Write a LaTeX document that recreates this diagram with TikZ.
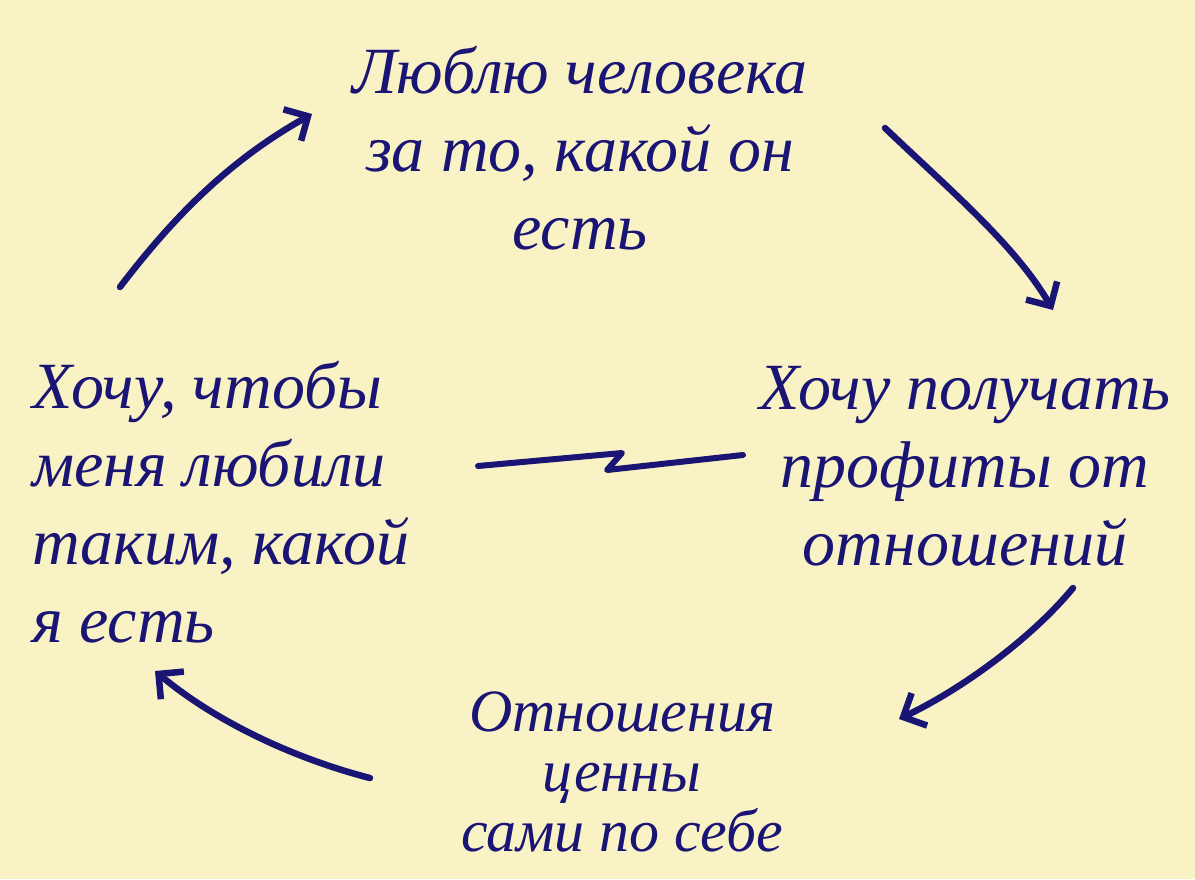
\documentclass[tikz,border=0pt]{standalone}
\usepackage{fontspec}
\setmainfont{Liberation Serif}
\usetikzlibrary{arrows.meta}
\definecolor{paper}{HTML}{F9F2C5}
\definecolor{ink}{HTML}{1A1474}
\begin{document}
\begin{tikzpicture}[x=1pt,y=-1pt,
  txt/.style={text=ink,font=\itshape\fontsize{66}{78}\selectfont,inner sep=0pt},
  pen/.style={draw=ink,line width=6.5pt,line cap=round,line join=round},
  arr/.style={pen,-{Straight Barb[length=18pt,width=36pt,line width=6.5pt]}}]
\fill[paper] (0,0) rectangle (1195,879);
\useasboundingbox (0,0) rectangle (1195,879);
\node[txt,align=center] (top) at (580,148) {Люблю человека\\за то, какой он\\есть};
\node[txt,align=center] (right) at (965,466) {Хочу получать\\профиты от\\отношений};
\node[txt,align=center,font=\itshape\fontsize{60}{60}\selectfont] (bottom) at (622,772) {Отношения\\ценны\\сами по себе};
\node[txt,align=left,anchor=west] (left) at (32,502) {Хочу, чтобы\\меня любили\\таким, какой\\я есть};
\coordinate (a1s) at (120,287);
\coordinate (a1e) at (312,114);
\coordinate (a2s) at (885,128);
\coordinate (a2e) at (1053,310);
\coordinate (a3s) at (1073,588);
\coordinate (a3e) at (899,719);
\coordinate (a4s) at (370,778);
\coordinate (a4e) at (155,671);
\coordinate (z1) at (478,466);
\coordinate (z2) at (622,453);
\coordinate (z3) at (607,470);
\coordinate (z4) at (743,455);
\draw[arr] (a1s) .. controls (175,215) and (230,160) .. (a1e);
\draw[arr] (a2s) .. controls (950,190) and (1015,245) .. (a2e);
\draw[arr] (a3s) .. controls (1030,640) and (960,690) .. (a3e);
\draw[arr] (a4s) .. controls (300,760) and (220,725) .. (a4e);
\draw[pen,line width=6pt] (z1) -- (z2) -- (z3) -- (z4);
\end{tikzpicture}
\end{document}
